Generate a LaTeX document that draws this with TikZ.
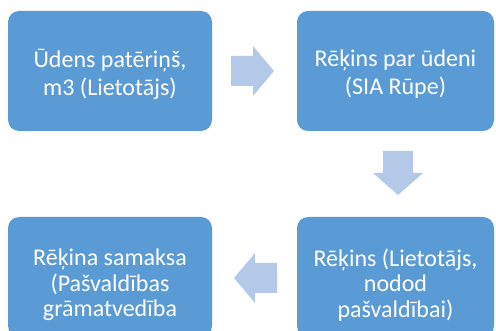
\documentclass[tikz,border=0pt]{standalone}
\usepackage{fontspec}
\setmainfont{Carlito}
\definecolor{boxblue}{HTML}{5B9BD5}
\definecolor{arrowblue}{HTML}{B4C9E8}
\tikzset{
  x=1pt, y=-1pt,
  stage/.style={draw=none, fill=boxblue, rounded corners=11pt, minimum width=204pt,
    minimum height=120pt, inner sep=0pt},
  stagetext/.style={inner sep=0pt, text=white, align=center},
  toptext/.style={stagetext, font=\fontsize{24}{28}\selectfont},
  lowtext/.style={stagetext, font=\fontsize{24}{25.5}\selectfont},
  flowarrow/.style={fill=arrowblue, draw=none}
}
\begin{document}
\begin{tikzpicture}
\useasboundingbox (0,0) rectangle (496,331);
\clip (0,0) rectangle (496,331);
% process stages
\node[stage] (use) at (110,71) {};
\node[stage, minimum width=197pt] (bill) at (395.5,71) {};
\node[stage, minimum width=197pt] (hand) at (395.5,277) {};
\node[stage] (pay) at (110,277) {};
% stage captions
\node[toptext] (use-t) at ([yshift=-3pt]use.center) {Ūdens patēriņš,\\m3 (Lietotājs)};
\node[toptext] (bill-t) at ([yshift=-3pt]bill.center) {Rēķins par ūdeni\\(SIA Rūpe)};
\node[lowtext] (hand-t) at ([yshift=-8pt]hand.center) {Rēķins (Lietotājs,\\nodod\\pašvaldībai)};
\node[lowtext] (pay-t) at ([yshift=-8pt]pay.center) {Rēķina samaksa\\(Pašvaldības\\grāmatvedība};
% block arrows between stages
\fill[flowarrow] (231,56) -- (253,56) -- (253,46) -- (274,71) -- (253,96) -- (253,86) -- (231,86) -- cycle;
\fill[flowarrow] (383,151) -- (413,151) -- (413,173) -- (423,173) -- (398,195) -- (373,173) -- (383,173) -- cycle;
\fill[flowarrow] (277,263) -- (255,263) -- (255,253) -- (234,278) -- (255,303) -- (255,293) -- (277,293) -- cycle;
\end{tikzpicture}
\end{document}
